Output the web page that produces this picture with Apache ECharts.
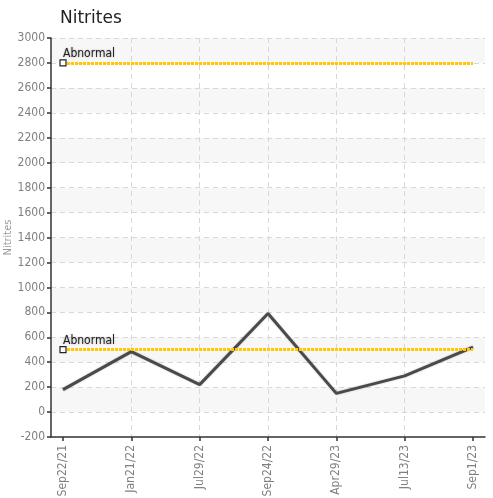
<!DOCTYPE html>
<html>
<head>
<meta charset="utf-8">
<script src="https://cdn.jsdelivr.net/npm/echarts@6/dist/echarts.min.js"></script>
<style>
  html, body { margin: 0; padding: 0; background: #fff; }
  #chart { width: 493px; height: 498px; }
</style>
</head>
<body>
<div id="chart"></div>
<script>
const dates = ["Sep22/21", "Jan21/22", "Jul29/22", "Sep24/22", "Apr29/23", "Jul13/23", "Sep1/23"];
const nitrites = [180, 485, 220, 790, 150, 290, 520];
const abnormalLevels = [2800, 500];

const labelFont = "DejaVu Sans Condensed";
// padding in category units between axis ends and first/last point
const pad = 0.1756;
const pos = dates.map((d, i) => i + pad);

const axisLineStyle = { color: "#333", width: 1.5 };

const chart = echarts.init(document.getElementById("chart"));

chart.setOption({
  animation: false,
  title: {
    text: "Nitrites",
    left: 55,
    top: 5,
    textStyle: { fontFamily: "DejaVu Sans", fontSize: 17, fontWeight: "normal", color: "#222" },
  },
  grid: { left: 51, right: 8, top: 38, bottom: 61, containLabel: false, outerBoundsMode: "none" },
  xAxis: {
    type: "value",
    min: 0,
    max: dates.length - 1 + 2 * pad,
    axisLine: { onZero: false, lineStyle: axisLineStyle },
    axisTick: { customValues: pos, length: 4, lineStyle: axisLineStyle },
    axisLabel: {
      customValues: pos,
      rotate: 90,
      color: "#808080",
      fontFamily: labelFont,
      fontSize: 12,
      margin: 8,
      formatter: (v) => dates[Math.round(v - pad)],
    },
    // min/max lines would hide the y axis line
    splitLine: { show: true, showMinLine: false, showMaxLine: false, lineStyle: { color: "#d8d8d8", type: [5, 4] } },
  },
  yAxis: {
    type: "value",
    min: -200,
    max: 3000,
    interval: 200,
    name: "Nitrites",
    nameLocation: "middle",
    nameGap: 37,
    nameMoveOverlap: false,
    nameTextStyle: { color: "#999", fontFamily: labelFont, fontSize: 11 },
    axisLine: { show: true, lineStyle: axisLineStyle },
    axisTick: { show: true, length: 4, lineStyle: axisLineStyle },
    axisLabel: { color: "#808080", fontFamily: labelFont, fontSize: 12, margin: 6, formatter: (v) => String(v) },
    splitLine: { show: true, showMinLine: false, lineStyle: { color: "#d8d8d8", type: [5, 4] } },
    splitArea: { show: true, areaStyle: { color: ["#ffffff", "#f7f7f7"] } },
  },
  series: [
    {
      type: "line",
      data: nitrites.map((v, i) => [pos[i], v]),
      showSymbol: false,
      symbol: "none",
      lineStyle: { color: "#4a4a4a", width: 3, shadowColor: "rgba(0,0,0,0.25)", shadowBlur: 2 },
      markLine: {
        silent: true,
        symbol: ["none", "none"],
        lineStyle: { color: "#ffc800", width: 3, type: [3, 1] },
        label: {
          show: true,
          position: "insideStartTop",
          formatter: "Abnormal",
          color: "#222",
          fontFamily: labelFont,
          fontSize: 12,
          distance: [0, 3],
          textShadowColor: "rgba(0,0,0,0.35)",
          textShadowBlur: 2,
        },
        data: abnormalLevels.map((lv) => [
          { coord: [pos[0], lv] },
          { coord: [pos[pos.length - 1], lv] },
        ]),
      },
      markPoint: {
        silent: true,
        symbol: "rect",
        symbolSize: 6,
        itemStyle: { color: "#fff", borderColor: "#222", borderWidth: 1.2 },
        label: { show: false },
        data: abnormalLevels.map((lv) => ({ coord: [pos[0], lv] })),
      },
    },
  ],
});
</script>
</body>
</html>
